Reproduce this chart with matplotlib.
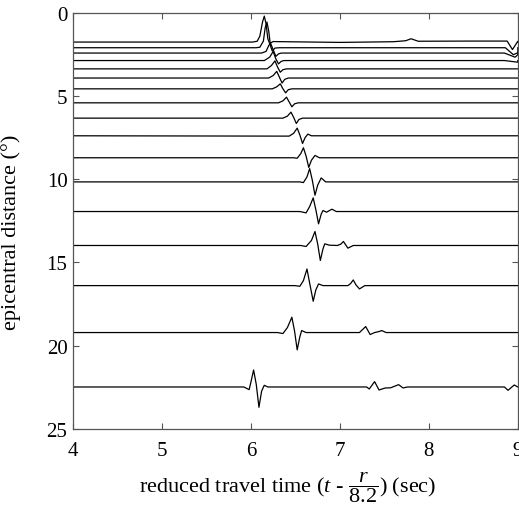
import numpy as np
import matplotlib
matplotlib.use("Agg")
import matplotlib.pyplot as plt

# record section: each trace sits at its epicentral distance (deg),
# wiggle vertices as (time s, amplitude deg, up = +)
record_span = [4.0, 9.0]

distances = [1.76, 2.10, 2.42, 2.87, 3.37, 3.92, 4.57, 5.41, 6.33,
             7.39, 8.71, 10.16, 11.94, 13.98, 16.39, 19.21, 22.48]

trace_t = [
    [6.02, 6.07, 6.10, 6.13, 6.15, 6.17, 6.19, 6.21, 6.25, 7.0, 7.6, 7.74, 7.80, 7.88,
     8.5, 8.88, 8.94, 9.0],
    [6.06, 6.10, 6.14, 6.16, 6.18, 6.20, 6.22, 6.24, 6.27, 6.32, 8.86, 8.95, 9.0],
    [6.12, 6.17, 6.20, 6.22, 6.25, 6.28, 6.31, 6.34, 8.85, 8.97, 9.0],
    [6.15, 6.21, 6.25, 6.28, 6.31, 6.34, 6.37, 8.85, 9.0],
    [6.18, 6.23, 6.27, 6.30, 6.33, 6.36, 6.40],
    [6.20, 6.25, 6.29, 6.32, 6.35, 6.38, 6.42],
    [6.24, 6.29, 6.33, 6.36, 6.39, 6.42, 6.46],
    [6.31, 6.36, 6.40, 6.43, 6.46, 6.49, 6.53],
    [6.36, 6.41, 6.45, 6.48, 6.51, 6.54, 6.58],
    [6.43, 6.48, 6.52, 6.55, 6.58, 6.61, 6.64, 6.68],
    [6.48, 6.52, 6.56, 6.59, 6.62, 6.65, 6.68, 6.72, 6.77],
    [6.55, 6.59, 6.63, 6.66, 6.69, 6.72, 6.75, 6.79, 6.84],
    [6.55, 6.62, 6.66, 6.70, 6.73, 6.76, 6.79, 6.81, 6.85, 6.91, 6.96],
    [6.56, 6.62, 6.68, 6.72, 6.75, 6.78, 6.81, 6.83, 6.88, 6.97, 7.01, 7.04, 7.09, 7.15],
    [6.49, 6.55, 6.59, 6.63, 6.66, 6.70, 6.73, 6.76, 6.81, 7.09, 7.12, 7.15, 7.18, 7.22, 7.28],
    [6.30, 6.36, 6.41, 6.46, 6.49, 6.52, 6.55, 6.57, 6.62, 7.22, 7.29, 7.34, 7.39, 7.44,
     7.47, 7.52],
    [5.92, 5.98, 6.00, 6.03, 6.06, 6.09, 6.12, 6.15, 6.19, 7.30, 7.33, 7.39, 7.44, 7.51,
     7.57, 7.66, 7.71, 7.76, 8.85, 8.89, 8.96, 9.0],
]

trace_a = [
    [0.0, 0.05, 0.35, 1.2, 1.56, 1.1, 0.2, -0.08, 0.03, -0.02, 0.02, 0.08, 0.20, 0.05,
     0.06, 0.06, -0.45, 0.05],
    [0.0, 0.03, 0.4, 1.2, 1.54, 1.0, 0.1, -0.2, -0.02, 0.0, 0.0, -0.42, -0.3],
    [0.0, 0.1, 0.45, 0.6, 0.2, -0.2, -0.05, 0.0, 0.0, -0.25, -0.1],
    [0.0, 0.2, 0.54, 0.1, -0.2, -0.05, 0.0, 0.0, -0.1],
    [0.0, 0.2, 0.48, 0.1, -0.2, -0.05, 0.0],
    [0.0, 0.15, 0.40, 0.05, -0.3, -0.08, 0.0],
    [0.0, 0.12, 0.30, 0.0, -0.24, -0.05, 0.0],
    [0.0, 0.12, 0.34, 0.05, -0.24, -0.06, 0.0],
    [0.0, 0.12, 0.36, 0.05, -0.32, -0.08, 0.0],
    [-0.02, 0.15, 0.46, 0.05, -0.46, -0.1, 0.1, 0.0],
    [0.0, -0.03, 0.25, 0.60, 0.1, -0.58, -0.15, 0.14, 0.0],
    [0.0, -0.04, 0.3, 0.80, 0.1, -0.80, -0.2, 0.24, 0.0],
    [0.0, -0.08, 0.3, 0.82, 0.1, -0.74, -0.15, 0.06, -0.04, 0.14, 0.0],
    [0.0, -0.06, 0.3, 0.84, 0.1, -0.90, -0.2, 0.10, 0.02, 0.0, 0.08, 0.24, -0.16, 0.0],
    [0.0, -0.04, 0.3, 1.00, 0.15, -0.94, -0.25, 0.1, 0.0, 0.0, 0.12, 0.34, 0.05, -0.2, 0.0],
    [0.0, -0.06, 0.3, 0.92, 0.1, -1.04, -0.25, 0.12, 0.0, 0.0, 0.36, -0.12, 0.0, 0.06,
     0.12, 0.0],
    [0.0, -0.16, 0.3, 1.02, 0.15, -1.22, -0.25, 0.1, 0.0, 0.0, -0.12, 0.32, -0.18, -0.06,
     -0.05, 0.14, -0.06, 0.0, 0.0, -0.20, 0.12, 0.0],
]

plt.rcParams['font.family'] = 'Liberation Serif'
plt.rcParams['mathtext.fontset'] = 'custom'
plt.rcParams['mathtext.rm'] = 'Liberation Serif'
plt.rcParams['mathtext.it'] = 'Liberation Serif:italic'

fig = plt.figure(figsize=(5.19, 5.10), dpi=100)
ax = fig.add_axes([0.1407, 0.157, 0.857, 0.816])

for d, ts, amps in zip(distances, trace_t, trace_a):
    t = np.r_[record_span[0], ts, record_span[1]]
    a = np.r_[0.0, amps, 0.0]
    ax.plot(t, d - a, color='black', lw=0.9)

ax.set_xlim(4, 9)
ax.set_ylim(25, 0)
ax.set_xticks([4, 5, 6, 7, 8, 9])
ax.set_yticks([0, 5, 10, 15, 20, 25])
ax.tick_params(direction='in', top=True, right=True, labelsize=15, length=4,
               width=0.8, color='#555555')
ax.tick_params(axis='x', pad=9)
ax.tick_params(axis='y', pad=4)
for s in ax.spines.values():
    s.set_color('#555555')
    s.set_linewidth(0.9)

ax.set_xlabel(r'reduced travel time ($t$ - $\dfrac{r}{8.2}$) (sec)', fontsize=16)
ax.xaxis.set_label_coords(0.482, -0.097, transform=ax.transAxes)
ax.xaxis.label.set_va('top')
ax.set_ylabel('epicentral distance (°)', fontsize=16)
ax.yaxis.set_label_coords(-0.118, 0.476)

fig.savefig('out.png', dpi=100)
